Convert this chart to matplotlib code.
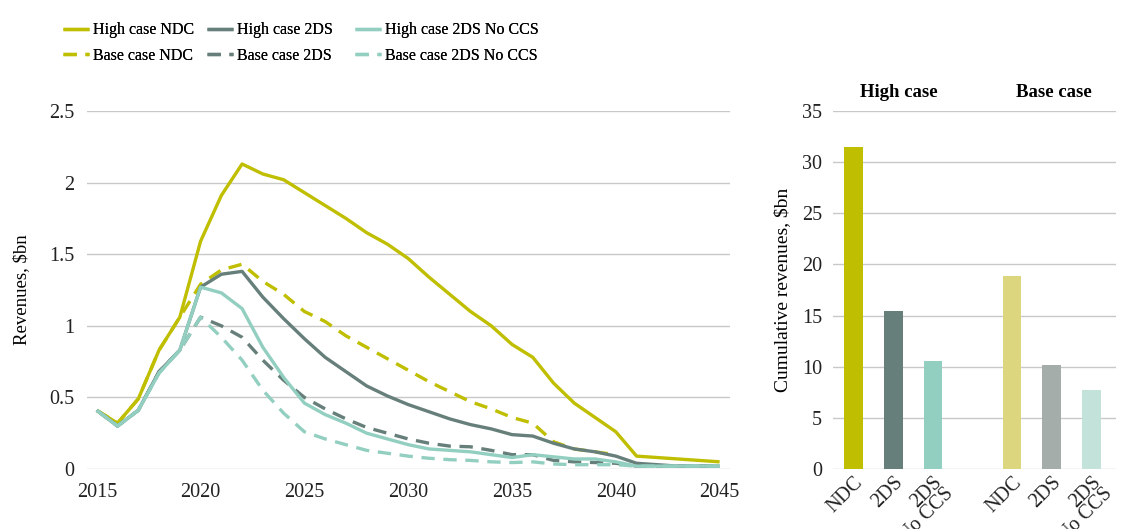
import matplotlib.pyplot as plt
import numpy as np

plt.rcParams['font.family'] = ['Liberation Serif', 'DejaVu Serif']

years = np.arange(2015, 2046)

high_ndc = [0.41, 0.32, 0.49, 0.83, 1.06, 1.59, 1.91, 2.13, 2.06, 2.02,
            1.93, 1.84, 1.75, 1.65, 1.57, 1.47, 1.34, 1.22, 1.10, 1.00,
            0.87, 0.78, 0.60, 0.46, 0.36, 0.26, 0.09, 0.08, 0.07, 0.06, 0.05]
high_2ds = [0.41, 0.30, 0.41, 0.68, 0.83, 1.27, 1.36, 1.38, 1.20, 1.05,
            0.91, 0.78, 0.68, 0.58, 0.51, 0.45, 0.40, 0.35, 0.31, 0.28,
            0.24, 0.23, 0.18, 0.14, 0.12, 0.09, 0.04, 0.03, 0.02, 0.02, 0.02]
high_noccs = [0.41, 0.30, 0.41, 0.67, 0.83, 1.27, 1.23, 1.12, 0.85, 0.64,
              0.46, 0.38, 0.32, 0.25, 0.21, 0.17, 0.14, 0.13, 0.12, 0.10,
              0.08, 0.10, 0.085, 0.07, 0.07, 0.05, 0.02, 0.02, 0.02, 0.02, 0.02]
base_ndc = [0.41, 0.32, 0.49, 0.83, 1.06, 1.29, 1.39, 1.43, 1.31, 1.22,
            1.10, 1.03, 0.93, 0.85, 0.77, 0.69, 0.61, 0.54, 0.47, 0.42,
            0.36, 0.32, 0.19, 0.14, 0.12, 0.10, np.nan, np.nan, np.nan, np.nan, np.nan]
base_2ds = [0.41, 0.30, 0.41, 0.68, 0.83, 1.06, 1.00, 0.92, 0.76, 0.62,
            0.50, 0.42, 0.35, 0.29, 0.25, 0.21, 0.18, 0.16, 0.155, 0.13,
            0.10, 0.10, 0.06, 0.05, 0.045, 0.04, 0.02, 0.02, 0.02, 0.02, 0.02]
base_noccs = [0.41, 0.30, 0.41, 0.67, 0.83, 1.06, 0.92, 0.76, 0.55, 0.39,
              0.26, 0.21, 0.17, 0.13, 0.11, 0.09, 0.075, 0.065, 0.06, 0.05,
              0.045, 0.05, 0.035, 0.03, 0.03, 0.03, 0.02, 0.02, 0.02, 0.02, 0.02]

bar_labels = ['NDC', '2DS', '2DS\nNo CCS', '', 'NDC', '2DS', '2DS\nNo CCS']
bar_values = [31.5, 15.4, 10.6, 0, 18.9, 10.2, 7.7]
group_names = ['High case', 'Base case']

yellow = '#BFBE00'
grey = '#677F7A'
teal = '#92CFC0'
bar_colors = [yellow, grey, teal, 'none', '#DCD67E', '#A4ADAA', '#C3E3DA']

fig = plt.figure(figsize=(11.34, 5.29), dpi=100)
ax = fig.add_axes([87 / 1134, 1 - 469 / 529, 643 / 1134, 358 / 529])
ax2 = fig.add_axes([833 / 1134, 1 - 469 / 529, 283 / 1134, 358 / 529])

lw = 2.4
dash = (0, (4, 2.6))
series = [
    (high_ndc, yellow, '-', 'High case NDC'),
    (base_ndc, yellow, dash, 'Base case NDC'),
    (high_2ds, grey, '-', 'High case 2DS'),
    (base_2ds, grey, dash, 'Base case 2DS'),
    (high_noccs, teal, '-', 'High case 2DS No CCS'),
    (base_noccs, teal, dash, 'Base case 2DS No CCS'),
]
handles = []
for vals, col, ls, lab in series:
    h, = ax.plot(years, vals, color=col, linestyle=ls, lw=lw, label=lab,
                 solid_capstyle='butt', dash_capstyle='butt')
    handles.append(h)

ax.set_xlim(2014.53, 2045.5)
ax.set_ylim(0, 2.5)
ax.set_xticks([2015, 2020, 2025, 2030, 2035, 2040, 2045])
ax.set_yticks([0, 0.5, 1, 1.5, 2, 2.5])
ax.set_yticklabels(['0', '0.5', '1', '1.5', '2', '2.5'])
ax.set_ylabel('Revenues, $bn', fontsize=13.5, labelpad=14)

x = np.arange(len(bar_values))
ax2.bar(x, bar_values, width=0.47, color=bar_colors)
ax2.set_xlim(-0.52, 6.62)
ax2.set_ylim(0, 35)
ax2.set_yticks(range(0, 36, 5))
ax2.set_xticks(x)
ax2.set_xticklabels(bar_labels, rotation=45, ha='right', va='top',
                    rotation_mode='anchor', linespacing=0.8)
ax2.set_ylabel('Cumulative revenues, $bn', fontsize=14, labelpad=8)
ax2.text(1.15, 36.0, group_names[0], ha='center', va='bottom',
         fontsize=13.5, fontweight='bold')
ax2.text(5.05, 36.0, group_names[1], ha='center', va='bottom',
         fontsize=13.5, fontweight='bold')

for a in (ax, ax2):
    a.grid(axis='y', color='#C8C8C8', lw=1)
    a.set_axisbelow(True)
    for s in a.spines.values():
        s.set_visible(False)
    a.tick_params(length=0, labelsize=14.5, colors='#222222')
ax.tick_params(axis='x', pad=10)
ax.tick_params(axis='y', pad=9)
ax2.tick_params(axis='y', pad=8)
ax2.tick_params(axis='x', pad=3)

# one legend per column so each sits where the reference has it
col_x = [49, 193, 341]
for i in range(3):
    leg = fig.legend(handles=handles[2 * i:2 * i + 2], loc='upper left',
                     bbox_to_anchor=(col_x[i] / 1134, 1 - 8 / 529),
                     frameon=False, fontsize=11.5, handlelength=1.6,
                     handletextpad=0.25, labelspacing=0.6)
    fig.add_artist(leg)

fig.savefig('out.png', dpi=100)
